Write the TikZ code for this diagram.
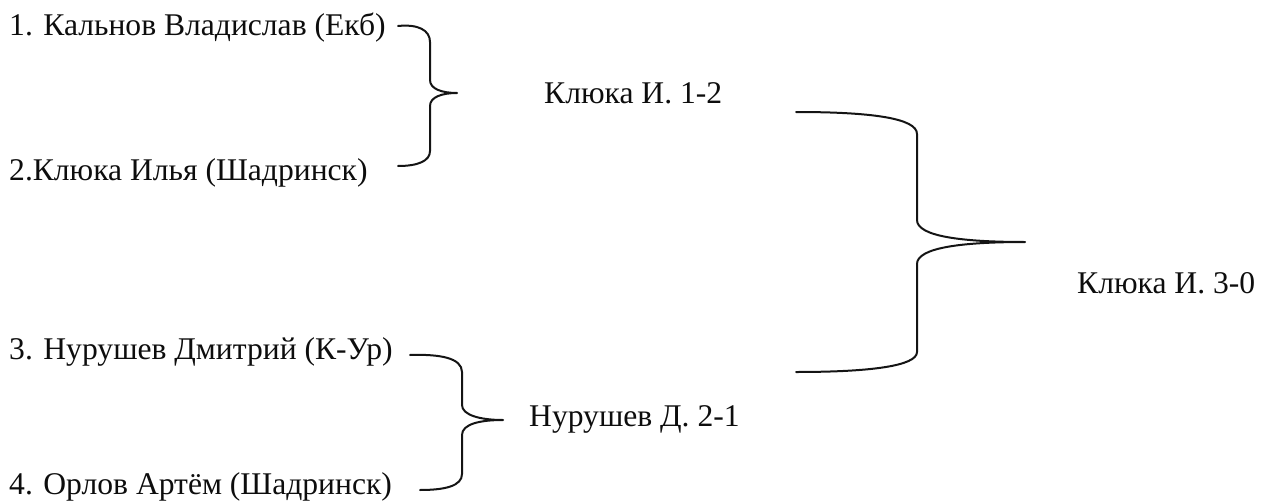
\documentclass[tikz,border=0pt]{standalone}
\usepackage{fontspec}
\setmainfont{Liberation Serif}
\begin{document}
\begin{tikzpicture}[x=1pt,y=-1pt,
  lbl/.style={inner sep=0pt, anchor=base west, font=\fontsize{31.6}{38}\selectfont, text=black!95},
  brace/.style={line width=2pt, draw=black!92, line cap=round, line join=round}]
\useasboundingbox (0,0) rectangle (1261,503);
\node[lbl] (t1) at (9,36) {1. Кальнов Владислав (Екб)};
\node[lbl] (t2) at (9,180) {2.Клюка Илья (Шадринск)};
\node[lbl] (t3) at (9,359) {3. Нурушев Дмитрий (К-Ур)};
\node[lbl] (t4) at (9,494) {4. Орлов Артём (Шадринск)};
\node[lbl] (w1) at (544,103) {Клюка И. 1-2};
\node[lbl] (w2) at (529,426) {Нурушев Д. 2-1};
\node[lbl] (w3) at (1077,293) {Клюка И. 3-0};
% bracket 1
\coordinate (b1t) at (398,26);
\coordinate (b1tip) at (457,93);
\coordinate (b1b) at (398,166);
\draw[brace] (b1t) .. controls (418,24) and (430,30) .. (430,42) -- (430,80)
  .. controls (430,89) and (442,93) .. (b1tip)
  .. controls (442,93) and (430,97) .. (430,106) -- (430,151)
  .. controls (430,161) and (418,166) .. (b1b);
% bracket 2
\coordinate (b2t) at (410,355);
\coordinate (b2tip) at (503,420);
\coordinate (b2b) at (420,490);
\draw[brace] (b2t) .. controls (440,354) and (462,358) .. (462,372) -- (462,405)
  .. controls (462,415) and (480,420) .. (b2tip)
  .. controls (480,420) and (462,424) .. (462,435) -- (462,474)
  .. controls (462,486) and (445,490) .. (b2b);
% big bracket
\coordinate (b3t) at (796,112);
\coordinate (b3tip) at (1025,242);
\coordinate (b3b) at (796,372);
\draw[brace] (b3t) .. controls (870,112) and (917,118) .. (917,134) -- (917,220)
  .. controls (917,236) and (960,242) .. (b3tip)
  .. controls (960,242) and (917,248) .. (917,264) -- (917,352)
  .. controls (917,366) and (870,372) .. (b3b);
\end{tikzpicture}
\end{document}
